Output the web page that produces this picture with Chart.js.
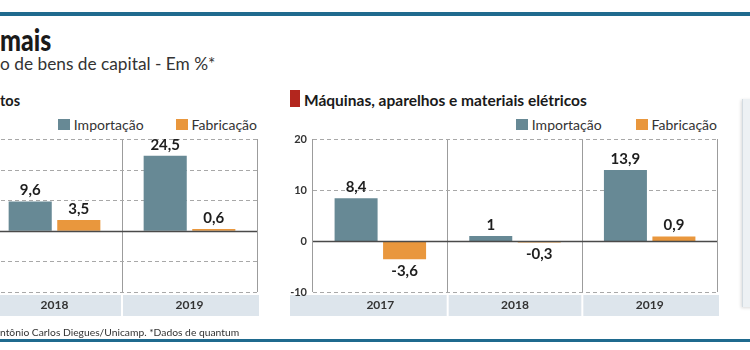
<!DOCTYPE html>
<html>
<head>
<meta charset="utf-8">
<script src="https://cdn.jsdelivr.net/npm/chart.js@4"></script>
<style>
  html, body { margin: 0; padding: 0; }
  body { width: 750px; height: 350px; position: relative; overflow: hidden; background: #fff; font-family: Lato, "Open Sans", sans-serif; color: #222; }
  .abs { position: absolute; white-space: nowrap; line-height: 1; }
  .rule { position: absolute; left: 0; width: 750px; background: #1f6a8e; }
  .legend { position: absolute; display: flex; align-items: center; font-size: 14px; color: #333; }
  .legend span.sq { display: inline-block; width: 12px; height: 11px; margin-right: 4px; }
  .legend .item { display: flex; align-items: center; }
  canvas { position: absolute; }
</style>
</head>
<body>
<div class="rule" style="top:12px;height:4px"></div>
<div class="abs" style="left:0;top:24px;font-size:30px;font-weight:900;color:#1a1a1a;transform:scaleX(0.83);transform-origin:left">mais</div>
<div class="abs" style="left:0;top:55px;font-size:17.3px;color:#333">o de bens de capital - Em %*</div>
<div class="abs" style="left:0;top:94px;font-size:14.5px;font-weight:bold;color:#1a1a1a">tos</div>
<div class="abs" style="left:290px;top:90px;width:10px;height:17px;background:#b3261e"></div>
<div class="abs" style="left:304px;top:93px;font-size:15.5px;font-weight:bold;color:#1a1a1a">Máquinas, aparelhos e materiais elétricos</div>

<div class="legend" style="right:493px;top:116px">
  <div class="item"><span class="sq" style="background:#678995"></span>Importação</div>
  <div class="item" style="margin-left:32px"><span class="sq" style="background:#e9973d"></span>Fabricação</div>
</div>
<div class="legend" style="right:33px;top:116px">
  <div class="item"><span class="sq" style="background:#678995"></span>Importação</div>
  <div class="item" style="margin-left:34px"><span class="sq" style="background:#e9973d"></span>Fabricação</div>
</div>

<canvas id="leftChart" width="306" height="210" style="left:-46px;top:120px;width:306px;height:210px"></canvas>
<canvas id="rightChart" width="440" height="210" style="left:280px;top:120px;width:440px;height:210px"></canvas>

<div class="abs" style="left:742px;top:99px;width:12px;height:208px;background:#edf1f4;border-left:1px solid #d3dbe1;box-shadow:-1px 1px 3px rgba(0,0,0,0.15)"></div>
<div class="abs" style="left:0;top:327px;font-size:10.3px;color:#333">ntônio Carlos Diegues/Unicamp. *Dados de quantum</div>
<div class="rule" style="top:339px;height:3px"></div>

<script>
const leftYears = ["2018", "2019"];
const leftImportacao = [9.6, 24.5];
const leftFabricacao = [3.5, 0.6];
const leftRange = [-20, 30];

const rightYears = ["2017", "2018", "2019"];
const rightImportacao = [8.4, 1, 13.9];
const rightFabricacao = [-3.6, -0.3, 0.9];
const rightRange = [-10, 20];

const tickStep = 10;
const colImp = "#678995";
const colFab = "#e9973d";

// year boxes, dashed grid, zero line and value labels
const panelDecor = {
  id: "panelDecor",
  beforeDraw(chart) {
    const { ctx, chartArea, scales: { x } } = chart;
    const n = x.ticks.length;
    const w = x.width / n;
    ctx.save();
    ctx.fillStyle = "#dde5ec";
    for (let i = 0; i < n; i++) {
      const c = x.getPixelForValue(i);
      const l = i === 0 ? chartArea.left - 23 : c - w / 2 + 1;
      const r = i === n - 1 ? c + w / 2 + 2 : c + w / 2 - 1;
      ctx.fillRect(l, chartArea.bottom + 3, r - l, 21);
    }
    ctx.restore();
  },
  beforeDatasetsDraw(chart) {
    const { ctx, chartArea, scales: { y } } = chart;
    ctx.save();
    ctx.strokeStyle = "#a8a8a8";
    ctx.lineWidth = 1;
    ctx.setLineDash([4, 3]);
    y.ticks.forEach(t => {
      if (t.value === 0) return;
      const py = Math.round(y.getPixelForValue(t.value)) + 0.5;
      ctx.beginPath();
      ctx.moveTo(chartArea.left, py);
      ctx.lineTo(chartArea.right, py);
      ctx.stroke();
    });
    ctx.restore();
  },
  afterDatasetsDraw(chart) {
    const { ctx, chartArea, scales: { y } } = chart;
    const y0 = Math.round(y.getPixelForValue(0)) + 0.5;
    ctx.save();
    ctx.strokeStyle = "#4a4a4a";
    ctx.lineWidth = 1.6;
    ctx.beginPath();
    ctx.moveTo(chartArea.left, y0);
    ctx.lineTo(chartArea.right, y0);
    ctx.stroke();

    ctx.font = "bold 15px Lato";
    ctx.fillStyle = "#1e1e1e";
    ctx.textAlign = "center";
    ctx.textBaseline = "middle";
    chart.data.datasets.forEach((ds, di) => {
      chart.getDatasetMeta(di).data.forEach((bar, i) => {
        const v = ds.data[i];
        const ty = v >= 0 ? bar.y - 11 : bar.y + 12;
        ctx.fillText(String(v).replace(".", ","), bar.x, ty);
      });
    });
    ctx.restore();
  }
};

function makeChart(id, years, imp, fab, range, padRight) {
  return new Chart(document.getElementById(id), {
    type: "bar",
    data: {
      labels: years,
      datasets: [
        { label: "Importação", data: imp, backgroundColor: colImp },
        { label: "Fabricação", data: fab, backgroundColor: colFab }
      ]
    },
    options: {
      responsive: false,
      animation: false,
      categoryPercentage: 0.72,
      barPercentage: 0.887,
      layout: { padding: { top: 19, right: padRight, left: 0, bottom: 0 } },
      plugins: { legend: { display: false }, tooltip: { enabled: false } },
      scales: {
        x: {
          grid: { color: "#9c9c9c", lineWidth: 1, drawTicks: false },
          border: { display: false },
          ticks: { color: "#333", font: { family: "Lato", size: 12, weight: "bold" }, padding: 6 },
          afterFit(s) { s.height = 38; }
        },
        y: {
          min: range[0],
          max: range[1],
          grid: { display: false, drawTicks: false },
          border: { display: false },
          ticks: { stepSize: tickStep, color: "#333", font: { family: "Lato", size: 11, weight: "bold" }, padding: 6 },
          afterFit(s) { s.width = 33; }
        }
      }
    },
    plugins: [panelDecor]
  });
}

makeChart("leftChart", leftYears, leftImportacao, leftFabricacao, leftRange, 3);
makeChart("rightChart", rightYears, rightImportacao, rightFabricacao, rightRange, 3);
</script>
</body>
</html>
